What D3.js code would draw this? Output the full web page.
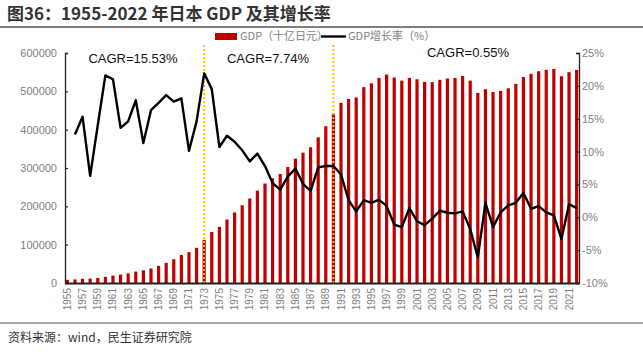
<!DOCTYPE html>
<html>
<head>
<meta charset="utf-8">
<script src="https://cdn.jsdelivr.net/npm/d3@7"></script>
<style>
  body { margin: 0; background: #fff; }
  svg { display: block; }
</style>
</head>
<body>
<div id="chart-area"></div>
<script>
// years 1955-2022
let years = d3.range(1955, 2023);

// GDP, billion yen
let gdp = [
  8400, 9400, 10900, 11500, 13200, 16000, 19300, 22000, 25000, 29800,
  33000, 37800, 44500, 52500, 62000, 73200, 80500, 91800, 112500, 133000,
  146500, 165500, 184000, 203000, 220500, 241000, 259500, 273000, 284500, 302500,
  324500, 340000, 354000, 380000, 409000, 442000, 470000, 480000, 484000, 511000,
  521000, 535000, 544000, 536000, 528000, 535000, 531500, 524500, 524000, 530000,
  533500, 535000, 540000, 528000, 496000, 505500, 498500, 501000, 508000, 519500,
  537500, 545500, 552500, 556000, 558500, 539500, 550000, 556000
];

// GDP growth rate, % (starts 1956)
let growth = [
  null, 12.6, 15.3, 6.3, 14.0, 21.6, 21.0, 13.6, 14.6, 17.8,
  11.3, 16.3, 17.4, 18.6, 17.6, 18.1, 10.1, 14.6, 21.9, 19.5,
  10.7, 12.4, 11.5, 10.2, 8.5, 9.7, 7.8, 5.2, 4.2, 6.2,
  7.4, 5.1, 4.0, 7.6, 7.8, 7.8, 6.5, 2.6, 0.9, 2.6,
  2.2, 2.7, 1.7, -1.1, -1.5, 1.4, -0.6, -1.2, -0.2, 1.0,
  0.7, 0.6, 0.9, -1.8, -6.1, 2.2, -1.5, 0.75, 1.8, 2.2,
  3.7, 1.3, 1.7, 0.75, 0.3, -3.3, 2.0, 1.4
];

let leftTicks = [0, 100000, 200000, 300000, 400000, 500000, 600000];
let rightTicks = [-10, -5, 0, 5, 10, 15, 20, 25];
let markYears = [1973, 1990];
let cagrLabels = ["CAGR=15.53%", "CAGR=7.74%", "CAGR=0.55%"];

let W = 643, H = 352;
let mLeft = 65, mRight = 579, mTop = 53, mBottom = 283;
let numFont = "'Liberation Sans', Arial, sans-serif";
let cjkFont = "'Noto Sans CJK SC', 'Noto Sans', sans-serif";

let svg = d3.select('#chart-area')
            .append('svg')
            .attr('width', W)
            .attr('height', H);

// title + rules
svg.append('text')
   .attr('x', 7).attr('y', 20)
   .attr('font-family', cjkFont)
   .attr('font-weight', 'bold')
   .attr('font-size', 17)
   .attr('fill', '#333')
   .text('图36：1955-2022 年日本 GDP 及其增长率');
svg.append('line')
   .attr('x1', 0).attr('x2', W).attr('y1', 27).attr('y2', 27)
   .attr('stroke', '#555').attr('stroke-width', 1.5);
svg.append('line')
   .attr('x1', 0).attr('x2', W).attr('y1', 323).attr('y2', 323)
   .attr('stroke', '#555').attr('stroke-width', 1.2);
svg.append('text')
   .attr('x', 8).attr('y', 342)
   .attr('font-family', cjkFont)
   .attr('font-size', 12)
   .attr('fill', '#333')
   .text('资料来源：wind，民生证券研究院');

// scales
let x = d3.scaleBand()
        .domain(years)
        .range([mLeft, mRight])
        .paddingInner(0.58)
        .paddingOuter(0.1);
let y = d3.scaleLinear().domain([0, 600000]).range([mBottom, mTop]);
let y2 = d3.scaleLinear().domain([-10, 25]).range([mBottom, mTop]);
let cx = function(yr){ return x(yr) + x.bandwidth() / 2; };

// bars
svg.selectAll('rect.bar')
   .data(years)
   .enter()
   .append('rect')
   .attr('class', 'bar')
   .attr('x', function(d){ return x(d); })
   .attr('width', x.bandwidth())
   .attr('y', function(d, i){ return y(gdp[i]); })
   .attr('height', function(d, i){ return mBottom - y(gdp[i]); })
   .attr('fill', '#c00000');

// dotted markers
svg.selectAll('line.mark')
   .data(markYears)
   .enter()
   .append('line')
   .attr('x1', cx).attr('x2', cx)
   .attr('y1', 45).attr('y2', mBottom)
   .attr('stroke', '#ffc000')
   .attr('stroke-width', 2)
   .attr('stroke-dasharray', '2,2');

// growth line
let line = d3.line()
             .defined(function(d){ return d.v !== null; })
             .x(function(d){ return cx(d.yr); })
             .y(function(d){ return y2(d.v); });
svg.append('path')
   .datum(years.map(function(yr, i){ return {yr: yr, v: growth[i]}; }))
   .attr('d', line)
   .attr('fill', 'none')
   .attr('stroke', '#000')
   .attr('stroke-width', 2.4)
   .attr('stroke-linejoin', 'round');

// axes
let axisL = svg.append('g')
   .attr('transform', 'translate(' + mLeft + ',0)')
   .call(d3.axisRight(y).tickValues(leftTicks).tickSize(3).tickFormat(d3.format('d')));
let axisR = svg.append('g')
   .attr('transform', 'translate(' + mRight + ',0)')
   .call(d3.axisLeft(y2).tickValues(rightTicks).tickSize(3).tickFormat(function(d){ return d + '%'; }));
[axisL, axisR].forEach(function(g){
  g.select('.domain').attr('stroke', '#222').attr('stroke-width', 1.3);
  g.selectAll('.tick line').attr('stroke', '#222').attr('stroke-width', 1.2);
  g.selectAll('.tick text')
   .attr('font-family', numFont)
   .attr('font-size', 11)
   .attr('fill', '#7f7f7f');
});
axisL.selectAll('.tick text').attr('x', -8).attr('text-anchor', 'end');
axisR.selectAll('.tick text').attr('x', 3).attr('text-anchor', 'start');

let axisB = svg.append('g')
   .attr('transform', 'translate(0,' + mBottom + ')')
   .call(d3.axisBottom(x)
           .tickValues(years.filter(function(d){ return (d - 1955) % 2 === 0; }))
           .tickSize(0));
axisB.select('.domain').attr('stroke', '#222').attr('stroke-width', 2);
axisB.selectAll('.tick text')
     .attr('font-family', numFont)
     .attr('font-size', 10)
     .attr('fill', '#7f7f7f')
     .attr('transform', 'rotate(-90)')
     .attr('x', -5).attr('y', 0).attr('dy', '0.35em')
     .attr('text-anchor', 'end');

// CAGR labels
let cagrPos = [[133, 63], [268, 63], [468, 57]];
svg.selectAll('text.cagr')
   .data(cagrLabels)
   .enter()
   .append('text')
   .attr('class', 'cagr')
   .attr('x', function(d, i){ return cagrPos[i][0]; })
   .attr('y', function(d, i){ return cagrPos[i][1]; })
   .attr('text-anchor', 'middle')
   .attr('font-family', numFont)
   .attr('font-size', 13)
   .attr('fill', '#111')
   .text(function(d){ return d; });

// legend
let lg = svg.append('g').attr('font-family', cjkFont).attr('font-size', 11).attr('fill', '#7f7f7f');
lg.append('rect').attr('x', 215).attr('y', 33).attr('width', 22).attr('height', 7).attr('fill', '#c00000');
lg.append('text').attr('x', 240).attr('y', 40).text('GDP（十亿日元）');
lg.append('line').attr('x1', 321).attr('x2', 346).attr('y1', 36.5).attr('y2', 36.5)
  .attr('stroke', '#000').attr('stroke-width', 2.4);
lg.append('text').attr('x', 348).attr('y', 40).text('GDP增长率（%）');
</script>
</body>
</html>
